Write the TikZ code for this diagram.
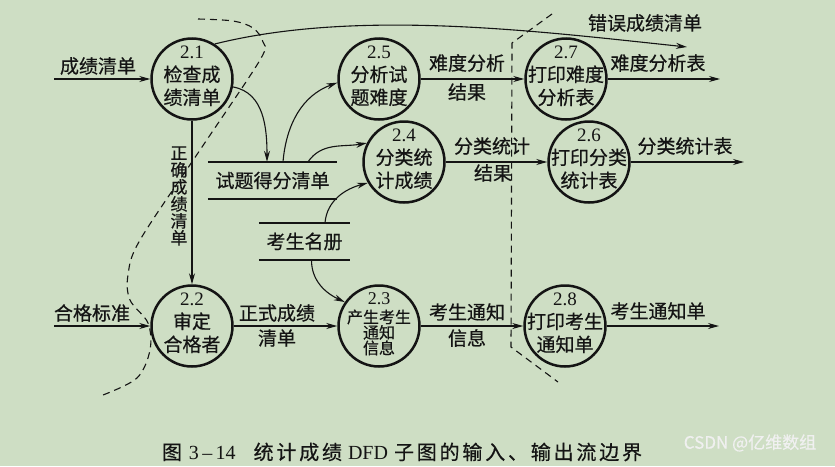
\documentclass[tikz,border=0pt]{standalone}
\usepackage{fontspec}
\setmainfont{Noto Sans CJK SC}[FakeBold=0.5]
\newfontfamily\numfont{Liberation Serif}
\usetikzlibrary{arrows.meta}
\definecolor{bg}{RGB}{206,222,196}
\definecolor{ink}{RGB}{20,20,20}
\begin{document}
\begin{tikzpicture}[x=1pt,y=1pt,
  proc/.style={circle,draw=ink,line width=2.5pt,minimum size=81pt,inner sep=0pt},
  ptext/.style={align=center,inner sep=0pt,text=ink,font=\fontsize{19}{23}\selectfont,yshift=3pt},
  ptextsm/.style={align=center,inner sep=0pt,text=ink,font=\fontsize{16}{15.5}\selectfont,yshift=2pt},
  lbl/.style={inner sep=0pt,text=ink,font=\fontsize{19}{20}\selectfont},
  vlbl/.style={align=center,inner sep=0pt,text=ink,font=\fontsize{17}{17}\selectfont},
  flow/.style={draw=ink,line width=1.1pt,-{Stealth[length=11pt,width=6pt]}},
  store/.style={minimum width=#1,minimum height=37pt,inner sep=0pt,text=ink,font=\fontsize{19}{20}\selectfont},
  stline/.style={draw=ink,line width=2.5pt},
  bound/.style={draw=ink,line width=1.1pt,dash pattern=on 7pt off 5pt},
  captext/.style={inner sep=0pt,text=ink,font=\fontsize{20}{20}\selectfont\addfontfeature{LetterSpace=14}},
  wm/.style={inner sep=0pt,text=white!88!gray,font=\fontsize{17}{18}\selectfont}
]
\useasboundingbox[fill=bg] (0,0) rectangle (835,-466);

% processes
\node[proc] (p21) at (192,-79) {};
\node[ptext] (t21) at (p21) {{\numfont 2.1}\\检查成\\绩清单};
\node[proc] (p25) at (379,-79) {};
\node[ptext] (t25) at (p25) {{\numfont 2.5}\\分析试\\题难度};
\node[proc] (p24) at (404,-162) {};
\node[ptext] (t24) at (p24) {{\numfont 2.4}\\分类统\\计成绩};
\node[proc] (p27) at (566,-79) {};
\node[ptext] (t27) at (p27) {{\numfont 2.7}\\打印难度\\分析表};
\node[proc] (p26) at (589,-162) {};
\node[ptext] (t26) at (p26) {{\numfont 2.6}\\打印分类\\统计表};
\node[proc] (p22) at (192,-326) {};
\node[ptext] (t22) at (p22) {{\numfont 2.2}\\审定\\合格者};
\node[proc] (p23) at (379,-326) {};
\node[ptextsm] (t23) at (p23) {{\numfont\fontsize{18}{17}\selectfont 2.3}\\[3pt]产生考生\\通知\\信息};
\node[proc] (p28) at (565,-326) {};
\node[ptext] (t28) at (p28) {{\numfont 2.8}\\打印考生\\通知单};

% data stores
\node[store=129pt] (s1) at (272.5,-180.5) {试题得分清单};
\draw[stline] (s1.north west) -- (s1.north east) (s1.south west) -- (s1.south east);
\node[store=91pt] (s2) at (304.5,-241.5) {考生名册};
\draw[stline] (s2.north west) -- (s2.north east) (s2.south west) -- (s2.south east);

% free ends
\coordinate (in1) at (54,-79);
\coordinate (in2) at (54,-326);
\coordinate (err) at (687,-47);
\coordinate (o1) at (720,-79);
\coordinate (o2) at (744,-162);
\coordinate (o3) at (719,-326);

% flows
\draw[flow] (in1) -- (p21);
\node[lbl] (l1) at (98,-66) {成绩清单};
\draw[flow] (p21) -- (p22);
\node[vlbl] (l2) at (179,-196) {正\\确\\成\\绩\\清\\单};
\draw[flow] (p21.-11) to[out=-10,in=90] ([xshift=-5.5pt]s1.north);
\draw[flow] ([xshift=10.5pt]s1.north) to[out=85,in=200] (p25.185);
\draw[flow] ([xshift=35.5pt]s1.north) to[out=55,in=190] (p24.153);
\draw[flow] ([xshift=20.5pt]s2.north) to[out=85,in=195] (p24.210);
\draw[flow] ([xshift=7pt]s2.south) to[out=-90,in=155] (p23.145);
\draw[flow] (p21.57) to[out=14,in=174,looseness=0.8] (err);
\node[lbl] (l3) at (645,-23) {错误成绩清单};
\draw[flow] (p25) -- (p27);
\node[lbl] (l4) at (467,-63) {难度分析};
\node[lbl] (l5) at (467,-92) {结果};
\draw[flow] (p27) -- (o1);
\node[lbl] (l6) at (658,-63) {难度分析表};
\draw[flow] (p24) -- (p26);
\node[lbl] (l7) at (492,-146) {分类统计};
\node[lbl] (l8) at (493,-173) {结果};
\draw[flow] (p26) -- (o2);
\node[lbl] (l9) at (685,-146) {分类统计表};
\draw[flow] (in2) -- (p22);
\node[lbl] (l10) at (92,-313) {合格标准};
\draw[flow] (p22) -- (p23);
\node[lbl] (l11) at (277,-313) {正式成绩};
\node[lbl] (l12) at (277,-338) {清单};
\draw[flow] (p23) -- (p28);
\node[lbl] (l13) at (467,-312) {考生通知};
\node[lbl] (l14) at (467,-338) {信息};
\draw[flow] (p28) -- (o3);
\node[lbl] (l15) at (658,-311) {考生通知单};

% boundaries
\draw[bound] plot[smooth,tension=0.55] coordinates {(198,-19) (233,-21) (253,-28) (263,-42) (260,-60) (200,-150) (140,-240) (128,-275) (130,-300) (148,-323) (150,-350) (137,-378) (103,-395)};
\draw[bound] (552,-14) -- (512,-43) -- (511,-347) -- (558,-382);

% caption and watermark
\node[captext] (captn) at (402,-452) {图\hspace{7pt}{\numfont 3\,–\,14}\hspace{18pt}统计成绩\hspace{6pt}{\numfont DFD}\hspace{6pt}子图的输入、输出流边界};
\node[wm] (wm) at (750,-443) {CSDN @亿维数组};
\end{tikzpicture}
\end{document}
